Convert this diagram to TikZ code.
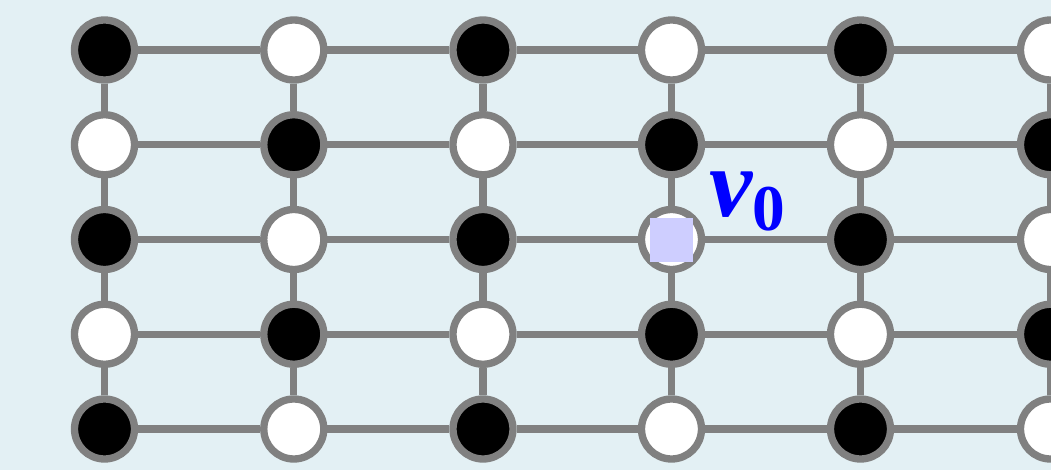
\documentclass[tikz,border=0pt]{standalone}
\usepackage{fontspec}
\setmainfont{Liberation Serif}
\definecolor{bgblue}{RGB}{227,240,244}
\definecolor{ringgray}{RGB}{128,128,128}
\definecolor{markfill}{RGB}{206,206,255}
\begin{document}
\begin{tikzpicture}[x=0.75pt,y=-0.75pt,
  site/.style={circle,draw=ringgray,line width=5.5pt,minimum size=45pt,inner sep=0pt},
  blacksite/.style={site,fill=black},
  whitesite/.style={site,fill=white},
  bond/.style={draw=ringgray,line width=5.5pt},
  marker/.style={rectangle,fill=markfill,draw=none,minimum size=32.5pt,inner sep=0pt},
]
\useasboundingbox (0,0) rectangle (1051,470);
\clip (0,0) rectangle (1051,470);
\fill[bgblue] (0,0) rectangle (1051,470);

% checkerboard lattice sites
\foreach \c/\x in {0/104.5,1/293.8,2/483,3/671.5,4/860.5,5/1050.5}
  \foreach \r/\y in {0/50,1/144.75,2/239.5,3/334.25,4/429}
  {
    \pgfmathtruncatemacro\parity{\c+\r}
    \ifodd\parity\def\sitestyle{whitesite}\else\def\sitestyle{blacksite}\fi
    \node[\sitestyle] (s-\r-\c) at (\x,\y) {};
  }

% bonds between neighbouring sites, ending at the rings
\foreach \r in {0,...,4}
  \foreach \c in {0,...,4}
  {
    \pgfmathtruncatemacro\nx{\c+1}
    \draw[bond] (s-\r-\c) -- (s-\r-\nx);
  }
\foreach \c in {0,...,5}
  \foreach \r in {0,...,3}
  {
    \pgfmathtruncatemacro\ny{\r+1}
    \draw[bond] (s-\r-\c) -- (s-\ny-\c);
  }

% marked vertex
\node[marker] (mark) at (671.5,240) {};
\node[anchor=base west, text=blue, inner sep=0pt] (v0lbl) at (709,217)
  {\fontsize{73}{73}\selectfont\bfseries\itshape v\fontsize{49}{49}\selectfont\upshape\raisebox{-10pt}{0}};
\end{tikzpicture}
\end{document}
